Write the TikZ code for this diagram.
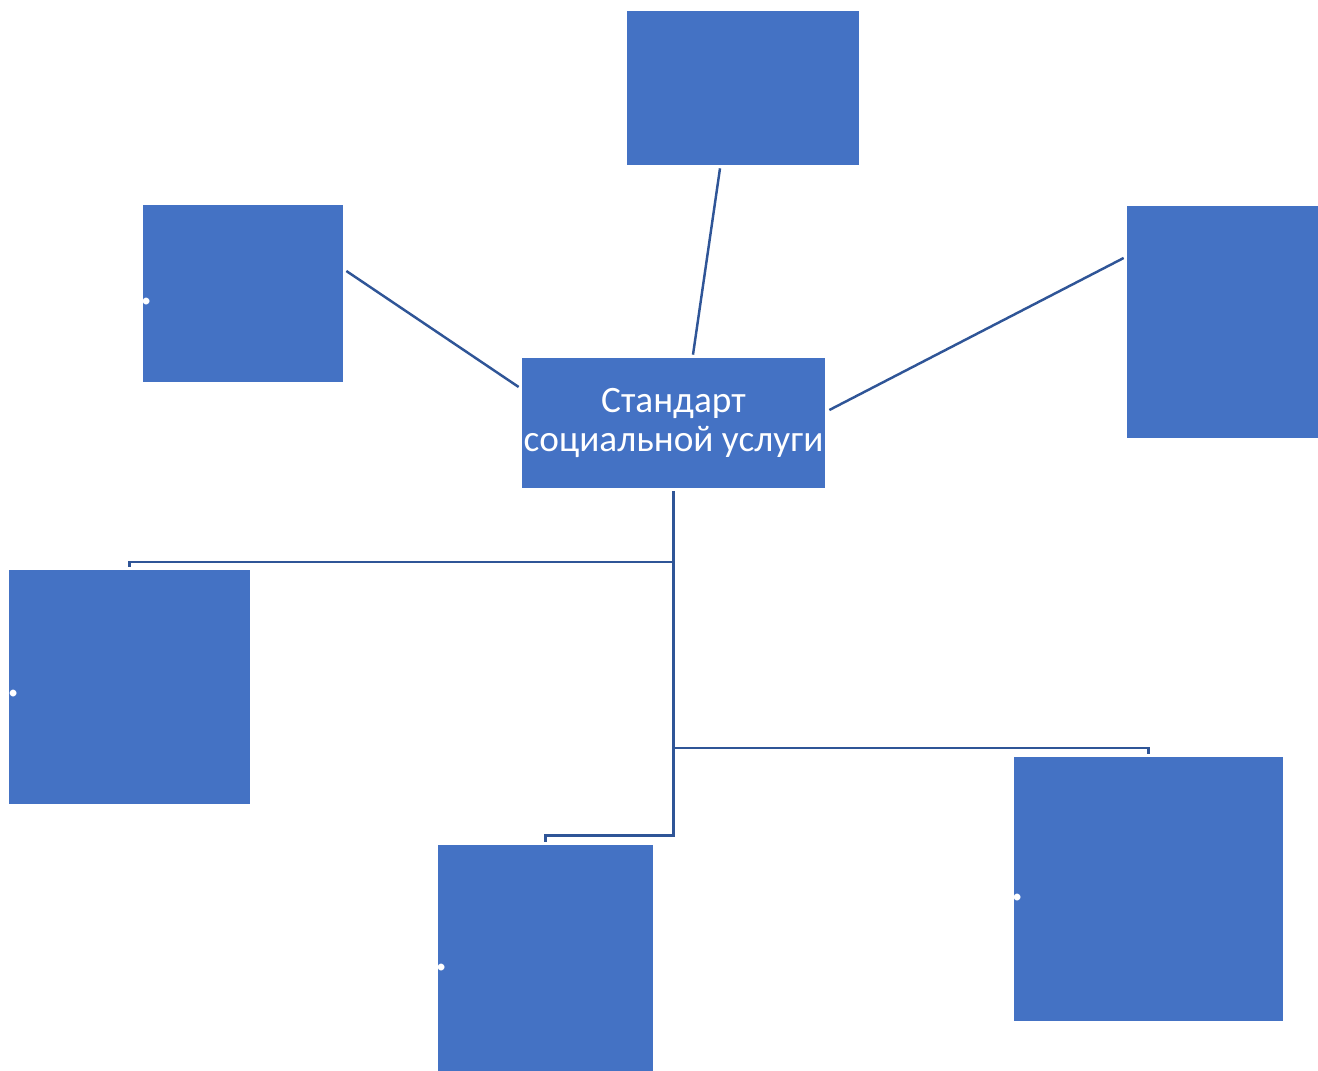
\documentclass[tikz,border=0pt]{standalone}
\usepackage{fontspec}
\setmainfont{Carlito}
\usepackage{tikz}
\usetikzlibrary{positioning,calc}

\definecolor{boxblue}{HTML}{4472C4}
\definecolor{lineblue}{HTML}{2F5597}

\begin{document}
\begin{tikzpicture}[
    x=0.2mm, y=-0.2mm,
    box/.style={rectangle, fill=boxblue, inner sep=0pt},
    mainbox/.style={box, text=white, align=center, font=\fontsize{21.2}{22.5}\selectfont},
    dotmark/.style={text=white, inner sep=0pt, anchor=base, font=\fontsize{32}{32}\selectfont},
    link/.style={draw=lineblue, line width=1.4pt}
]
\useasboundingbox (0,0) rectangle (1318,1071);

% Centre
\node[mainbox, minimum width=60.6mm, minimum height=26mm] (ctr) at (673.5,423) {Стандарт\\социальной услуги};

% Upper row
\node[box, minimum width=46.4mm, minimum height=30.8mm] (top) at (743,88) {};
\node[box, minimum width=40mm, minimum height=35.4mm] (ul) at (243,293.5) {};
\node[box, minimum width=38.2mm, minimum height=46.4mm] (rt) at (1222.5,322) {};

% Lower row
\node[box, minimum width=48.2mm, minimum height=46.8mm] (ll) at (129.5,687) {};
\node[box, minimum width=43mm, minimum height=45.2mm] (bm) at (545.5,958) {};
\node[box, minimum width=53.8mm, minimum height=52.8mm] (br) at (1148.5,889) {};

% Dots
\node[dotmark] (ulDot) at (147,304) {.};
\node[dotmark] (llDot) at (14,696) {.};
\node[dotmark] (bmDot) at (442,970) {.};
\node[dotmark] (brDot) at (1018,900) {.};

% Straight links
\draw[link] ([xshift=-4.6mm,yshift=-0.6mm]top.south) -- ([xshift=3.9mm,yshift=0.6mm]ctr.north);
\draw[link] ([xshift=0.6mm,yshift=4.5mm]ul.east) -- ([xshift=-0.6mm,yshift=7.2mm]ctr.west);
\draw[link] ([xshift=-0.6mm,yshift=12.8mm]rt.west) -- ([xshift=0.8mm,yshift=2.6mm]ctr.east);

% Tree links
\coordinate (jl) at (674,562);
\coordinate (jr) at (674,748);
\draw[link] ([yshift=-0.6mm]ctr.south) |- ([yshift=1.8mm]bm.north) -- ([yshift=0.6mm]bm.north);
\draw[link] (jl) -| ([yshift=0.6mm]ll.north);
\draw[link] (jr) -| ([yshift=0.6mm]br.north);
\end{tikzpicture}
\end{document}
